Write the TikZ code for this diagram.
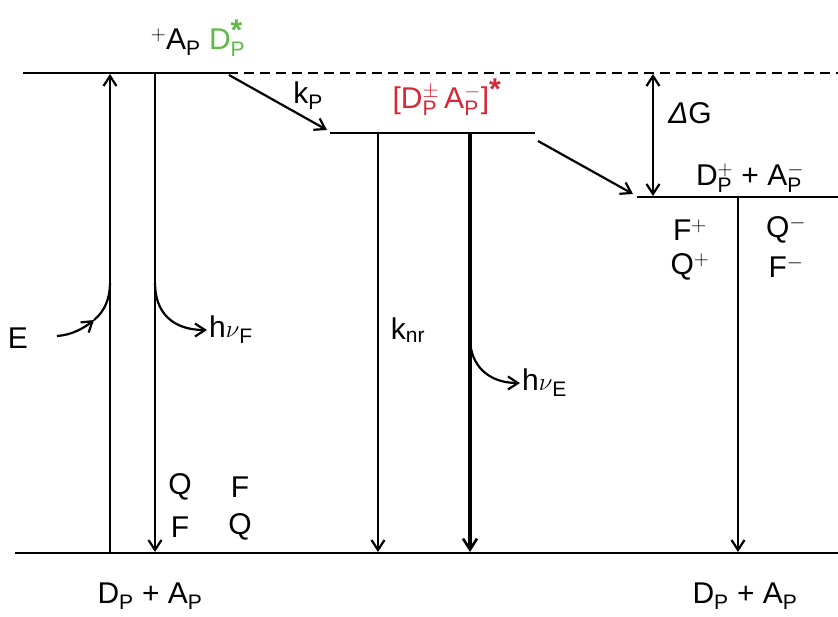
\documentclass[tikz,border=0pt]{standalone}
\usepackage{fontspec}
\setmainfont{Liberation Sans}
\setsansfont{Liberation Sans}
\usetikzlibrary{arrows.meta}
\definecolor{dgreen}{RGB}{95,185,70}
\definecolor{dred}{RGB}{215,40,55}
\tikzset{
  lvl/.style={line width=2.8pt},
  arr/.style={line width=2.2pt,-{Straight Barb[length=10pt,width=13pt,line width=2.2pt]}},
  arrt/.style={line width=3.4pt,-{Straight Barb[length=11pt,width=14pt,line width=2.6pt]}},
  plain/.style={line width=2.2pt},
  lab/.style={inner sep=0pt,font=\fontsize{30}{32}\selectfont}
}
\newcommand{\sbs}[1]{\textsubscript{#1}}
\newcommand{\bigstar}{\mbox{\fontsize{30}{30}\selectfont\bfseries *}}
\begin{document}
\begin{tikzpicture}[x=1pt,y=-1pt]
\useasboundingbox (0,0) rectangle (838,616);
% levels
\coordinate (L1a) at (23,73);
\coordinate (L1b) at (228,73);
\coordinate (L1d) at (838,73);
\coordinate (L2a) at (330,133);
\coordinate (L2b) at (535,133);
\coordinate (L3a) at (637,197);
\coordinate (L3b) at (838,197);
\coordinate (G0a) at (15,553);
\coordinate (G0b) at (838,553);
\draw[lvl] (L1a) -- (L1b);
\draw[lvl,dash pattern=on 10pt off 6pt,line width=1.8pt] (L1b) -- (L1d);
\draw[lvl] (L2a) -- (L2b);
\draw[lvl] (L3a) -- (L3b);
\draw[lvl] (G0a) -- (G0b);

% excitation
\coordinate (exb) at (110,553);
\coordinate (ext) at (110,74);
\draw[arr] (exb) -- (ext);
\node[lab] (E) at (18,338) {E};
\coordinate (e1) at (57,336);
\coordinate (e2) at (94,320);
\coordinate (e3) at (110,283);
\draw[arr] (e1) .. controls (72,335) and (84,328) .. (e2);
\draw[plain] (e2) .. controls (105,311) and (110,298) .. (e3);

% fluorescence
\coordinate (fl1) at (155,74);
\coordinate (fl2) at (155,552);
\draw[arr] (fl1) -- (fl2);
\coordinate (hf1) at (155,283);
\coordinate (hf2) at (207,330);
\draw[arr] (hf1) .. controls (155,312) and (172,330) .. (hf2);
\node[lab,anchor=west] (hnuF) at (209,330) {h$\nu$\sbs{F}};

% kP arrow
\coordinate (kp1) at (229,75);
\coordinate (kp2) at (327,130);
\draw[arr] (kp1) -- (kp2);
\node[lab] (kP) at (308,96) {k\sbs{P}};

% exciplex
\node[lab,text=dred] (EX) at (447,97) {[D$^{\pm}_{\mathrm{P}}$\,A$^{-}_{\mathrm{P}}$]$^{\bigstar}$};
\coordinate (kn1) at (378,134);
\coordinate (kn2) at (378,552);
\draw[arr] (kn1) -- (kn2);
\node[lab] (knr) at (408,330) {k\sbs{nr}};
\coordinate (ee1) at (470,134);
\coordinate (ee2) at (470,552);
\draw[arrt] (ee1) -- (ee2);
\coordinate (he1) at (470,338);
\coordinate (he2) at (520,383);
\draw[arr] (he1) .. controls (470,365) and (488,383) .. (he2);
\node[lab,anchor=west] (hnuE) at (522,383) {h$\nu$\sbs{E}};

% second diagonal
\coordinate (d1) at (538,141);
\coordinate (d2) at (633,194);
\draw[arr] (d1) -- (d2);

% Delta G
\coordinate (g1) at (653,74);
\coordinate (g2) at (653,196);
\draw[line width=2.2pt,{Straight Barb[length=10pt,width=13pt,line width=2.2pt]}-{Straight Barb[length=10pt,width=13pt,line width=2.2pt]}] (g1) -- (g2);
\node[lab] (dG) at (690,113) {\textit{Δ}G};

% ion pair
\node[lab] (IP) at (750,178) {D$^{+}_{\mathrm{P}}$ + A$^{-}_{\mathrm{P}}$};
\coordinate (ip1) at (738,198);
\coordinate (ip2) at (738,552);
\draw[arr] (ip1) -- (ip2);
\node[lab] (Fp) at (690,230) {F$^{+}$};
\node[lab] (Qm) at (786,230) {Q$^{-}$};
\node[lab] (Qp) at (690,267) {Q$^{+}$};
\node[lab] (Fm) at (786,267) {F$^{-}$};

% top label
\node[lab] (top) at (198,38) {$^{+}$A\sbs{P} \textcolor{dgreen}{D$^{\bigstar}_{\mathrm{P}}$}};

% quencher labels
\node[lab] (q1) at (180,487) {Q};
\node[lab] (f1) at (240,487) {F};
\node[lab] (f2) at (180,527) {F};
\node[lab] (q2) at (240,527) {Q};

% bottom labels
\node[lab] (B1) at (150,596) {D\sbs{P} + A\sbs{P}};
\node[lab] (B2) at (745,596) {D\sbs{P} + A\sbs{P}};
\end{tikzpicture}
\end{document}
